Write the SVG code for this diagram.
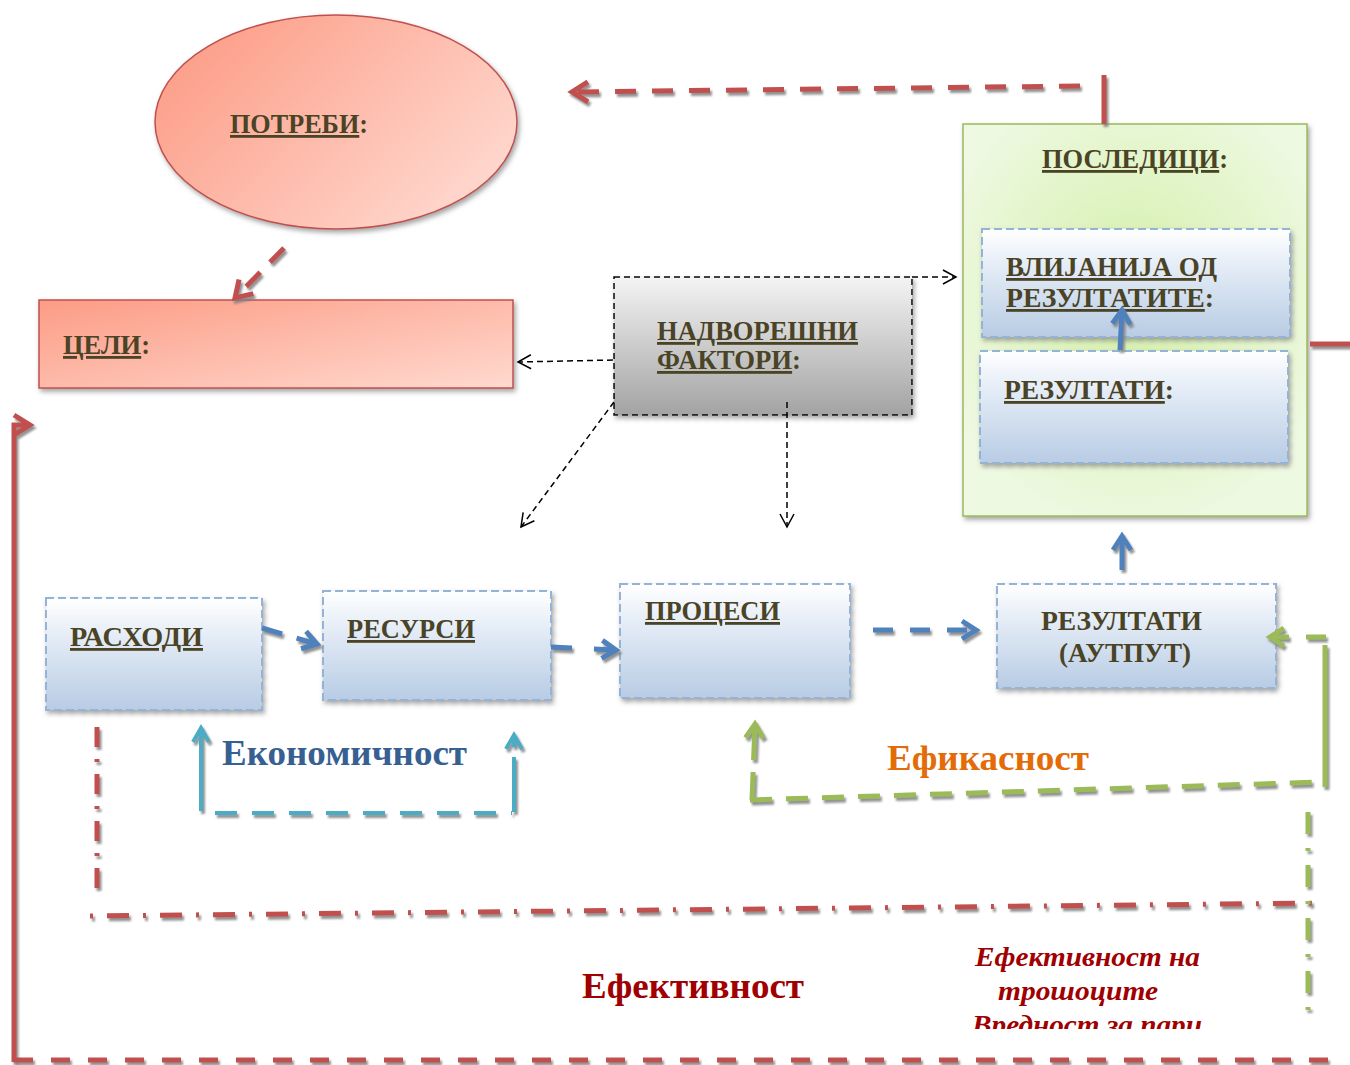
<svg xmlns="http://www.w3.org/2000/svg" width="1350" height="1065" viewBox="0 0 1350 1065">
<style>
.lbl{font-family:"Liberation Serif","Times New Roman",serif;font-weight:bold;font-size:28px;fill:#4a4326}
.u{text-decoration:underline;text-decoration-thickness:2.5px}
.big{font-family:"Liberation Serif","Times New Roman",serif;font-weight:bold;font-size:35px}
.it{font-family:"Liberation Serif","Times New Roman",serif;font-weight:bold;font-style:italic;font-size:27px;fill:#a00000}
.blueBox{fill:url(#gBlue);stroke:#95b3d7;stroke-width:2;stroke-dasharray:8 4}
.red{fill:none;stroke:#c0504d;stroke-width:5}
.blue{fill:none;stroke:#4f81bd;stroke-width:5}
.cyan{fill:none;stroke:#4bacc6;stroke-width:4}
.green{fill:none;stroke:#9bbb59;stroke-width:5}
.blk{fill:none;stroke:#000;stroke-width:1.5;stroke-dasharray:6 4}
</style>
<defs>
<filter id="sh" filterUnits="userSpaceOnUse" x="0" y="0" width="1350" height="1065">
<feDropShadow dx="2" dy="3" stdDeviation="1" flood-color="#7f7f7f" flood-opacity="0.85"/>
</filter>
<filter id="shs" filterUnits="userSpaceOnUse" x="0" y="0" width="1350" height="1065">
<feDropShadow dx="2" dy="3" stdDeviation="2.5" flood-color="#7f7f7f" flood-opacity="0.7"/>
</filter>
<linearGradient id="gBlue" x1="0" y1="0" x2="0" y2="1">
<stop offset="0" stop-color="#ffffff"/><stop offset="0.35" stop-color="#e4ecf6"/><stop offset="1" stop-color="#b8cce4"/>
</linearGradient>
<linearGradient id="gRed" x1="0" y1="0" x2="1" y2="1">
<stop offset="0" stop-color="#fc9c85"/><stop offset="1" stop-color="#ffd9cf"/>
</linearGradient>
<linearGradient id="gEll" x1="0" y1="0.2" x2="1" y2="0.8">
<stop offset="0" stop-color="#fc9c86"/><stop offset="1" stop-color="#ffdbd2"/>
</linearGradient>
<linearGradient id="gGray" x1="0" y1="0" x2="0" y2="1">
<stop offset="0" stop-color="#f4f4f4"/><stop offset="1" stop-color="#a3a3a3"/>
</linearGradient>
<radialGradient id="gGreen" cx="0.5" cy="0.45" r="0.6">
<stop offset="0" stop-color="#d3efa8"/><stop offset="1" stop-color="#eef9e2"/>
</radialGradient>
<marker id="aRed" markerUnits="userSpaceOnUse" markerWidth="30" markerHeight="30" refX="2" refY="12" orient="auto" overflow="visible">
<path d="M-14,2 L2,12 L-14,22" fill="none" stroke="#c0504d" stroke-width="5" stroke-linejoin="miter"/>
</marker>
<marker id="aBlue" markerUnits="userSpaceOnUse" markerWidth="30" markerHeight="30" refX="2" refY="12" orient="auto" overflow="visible">
<path d="M-12,3 L2,12 L-12,21" fill="none" stroke="#4f81bd" stroke-width="5"/>
</marker>
<marker id="aCyan" markerUnits="userSpaceOnUse" markerWidth="30" markerHeight="30" refX="2" refY="12" orient="auto" overflow="visible">
<path d="M-12,4 L2,12 L-12,20" fill="none" stroke="#4bacc6" stroke-width="4"/>
</marker>
<marker id="aGreen" markerUnits="userSpaceOnUse" markerWidth="30" markerHeight="30" refX="2" refY="12" orient="auto" overflow="visible">
<path d="M-12,3 L2,12 L-12,21" fill="none" stroke="#9bbb59" stroke-width="5"/>
</marker>
<marker id="aBlk" markerUnits="userSpaceOnUse" markerWidth="20" markerHeight="20" refX="1" refY="8" orient="auto" overflow="visible">
<path d="M-12,1 L1,8 L-12,15" fill="none" stroke="#000" stroke-width="1.5"/>
</marker>
<clipPath id="clipTxt"><rect x="0" y="0" width="1350" height="1029"/></clipPath>
</defs>
<rect width="1350" height="1065" fill="#ffffff"/>

<g id="node-potrebi">
<ellipse cx="336" cy="122" rx="181" ry="107" fill="url(#gEll)" stroke="#c0504d" stroke-width="1.5" filter="url(#shs)"/>
<text class="lbl" x="230" y="133" textLength="138" lengthAdjust="spacingAndGlyphs"><tspan class="u">ПОТРЕБИ</tspan>:</text>
</g>

<g id="node-celi">
<rect x="39" y="300" width="474" height="88" fill="url(#gRed)" stroke="#c0504d" stroke-width="1.5" filter="url(#shs)"/>
<text class="lbl" x="63" y="354" textLength="87" lengthAdjust="spacingAndGlyphs"><tspan class="u">ЦЕЛИ</tspan>:</text>
</g>

<g id="node-nadvoreshni">
<rect x="614" y="277" width="298" height="138" fill="url(#gGray)" stroke="#000" stroke-width="1.5" stroke-dasharray="6 4" filter="url(#shs)"/>
<text class="lbl" x="657" y="340" textLength="201" lengthAdjust="spacingAndGlyphs"><tspan class="u">НАДВОРЕШНИ</tspan></text>
<text class="lbl" x="657" y="369" textLength="144" lengthAdjust="spacingAndGlyphs"><tspan class="u">ФАКТОРИ</tspan>:</text>
</g>

<g id="node-posledici">
<rect x="963" y="124" width="344" height="392" fill="url(#gGreen)" stroke="#9bbb59" stroke-width="1.5" filter="url(#shs)"/>
<text class="lbl" x="1042" y="168" textLength="186" lengthAdjust="spacingAndGlyphs"><tspan class="u">ПОСЛЕДИЦИ</tspan>:</text>
</g>

<g id="node-vlijanija">
<rect class="blueBox" x="982" y="229" width="308" height="108" filter="url(#shs)"/>
<text class="lbl" x="1006" y="276" textLength="211" lengthAdjust="spacingAndGlyphs"><tspan class="u">ВЛИЈАНИЈА ОД</tspan></text>
<text class="lbl" x="1006" y="307" textLength="208" lengthAdjust="spacingAndGlyphs"><tspan class="u">РЕЗУЛТАТИТЕ</tspan>:</text>
</g>

<g id="node-rezultati-inner">
<rect class="blueBox" x="980" y="351" width="308" height="112" filter="url(#shs)"/>
<text class="lbl" x="1004" y="399" textLength="170" lengthAdjust="spacingAndGlyphs"><tspan class="u">РЕЗУЛТАТИ</tspan>:</text>
</g>

<g id="node-rashodi">
<rect class="blueBox" x="46" y="598" width="216" height="112" filter="url(#shs)"/>
<text class="lbl" x="70" y="646" textLength="133" lengthAdjust="spacingAndGlyphs"><tspan class="u">РАСХОДИ</tspan></text>
</g>

<g id="node-resursi">
<rect class="blueBox" x="323" y="591" width="228" height="109" filter="url(#shs)"/>
<text class="lbl" x="347" y="638" textLength="128" lengthAdjust="spacingAndGlyphs"><tspan class="u">РЕСУРСИ</tspan></text>
</g>

<g id="node-procesi">
<rect class="blueBox" x="620" y="584" width="230" height="114" filter="url(#shs)"/>
<text class="lbl" x="645" y="620" textLength="135" lengthAdjust="spacingAndGlyphs"><tspan class="u">ПРОЦЕСИ</tspan></text>
</g>

<g id="node-autput">
<rect class="blueBox" x="997" y="584" width="279" height="104" filter="url(#shs)"/>
<text class="lbl" x="1041" y="630" textLength="161" lengthAdjust="spacingAndGlyphs">РЕЗУЛТАТИ</text>
<text class="lbl" x="1059" y="662" textLength="132" lengthAdjust="spacingAndGlyphs">(АУТПУТ)</text>
</g>

<g id="connectors">
<path class="red" d="M1080,86 L572,92" stroke-dasharray="21 16" marker-end="url(#aRed)" filter="url(#sh)"/>
<path class="red" d="M1104,75 L1104,124" filter="url(#sh)"/>
<path class="red" d="M1310,344 L1350,344" filter="url(#sh)"/>
<path class="red" d="M284,248 L235,298" stroke-dasharray="20 14" marker-end="url(#aRed)" filter="url(#sh)"/>
<path class="red" d="M14,1062 L14,425 L30,425" stroke-width="4" marker-end="url(#aRed)" filter="url(#sh)"/>
<path class="red" d="M14,1060 L1342,1060" stroke-dasharray="19 18" filter="url(#sh)"/>
<path class="red" d="M97,727 L97,892" stroke-width="4" stroke-dasharray="20 12 3 12" filter="url(#sh)"/>
<path class="red" d="M90,916 L1325,903" stroke-width="6" stroke-dasharray="3 14 22 14" filter="url(#sh)"/>
<path class="blk" d="M912,277 L956,277" marker-end="url(#aBlk)"/>
<path class="blk" d="M613,360 L518,362" marker-end="url(#aBlk)"/>
<path class="blk" d="M614,402 L521,527" marker-end="url(#aBlk)"/>
<path class="blk" d="M787,402 L787,527" marker-end="url(#aBlk)"/>
<path class="blue" d="M262,628 L317,644" stroke-dasharray="21 15" marker-end="url(#aBlue)" filter="url(#sh)"/>
<path class="blue" d="M551,647 L616,650" stroke-dasharray="21 22" marker-end="url(#aBlue)" filter="url(#sh)"/>
<path class="blue" d="M873,630 L976,630" stroke-dasharray="20 17" marker-end="url(#aBlue)" filter="url(#sh)"/>
<path class="blue" d="M1122,570 L1122,536" marker-end="url(#aBlue)" filter="url(#sh)"/>
<path class="blue" d="M1120,350 L1122,310" marker-end="url(#aBlue)" filter="url(#sh)"/>
<path class="cyan" d="M201,811 L201,728" marker-end="url(#aCyan)" filter="url(#sh)"/>
<path class="cyan" d="M215,813 L512,813" stroke-width="5" stroke-dasharray="22 15" filter="url(#sh)"/>
<path class="cyan" d="M514,812 L514,735" stroke-dasharray="55 10 40" marker-end="url(#aCyan)" filter="url(#sh)"/>
<path class="green" d="M752,800 L755,724" stroke-width="4" stroke-dasharray="28 12 40" marker-end="url(#aGreen)" filter="url(#sh)"/>
<path class="green" d="M750,800 L1322,782" stroke-dasharray="22 14" filter="url(#sh)"/>
<path class="green" d="M1325,645 L1325,787" stroke-width="4" filter="url(#sh)"/>
<path class="green" d="M1326,637 L1270,637" stroke-dasharray="20 17" marker-end="url(#aGreen)" filter="url(#sh)"/>
<path class="green" d="M1308,812 L1308,1012" stroke-width="4" stroke-dasharray="22 14 3 14" filter="url(#sh)"/>
</g>

<g id="labels">
<text class="big" x="222" y="765" fill="#376092" textLength="245" lengthAdjust="spacingAndGlyphs">Економичност</text>
<text class="big" x="887" y="770" fill="#e36c09" textLength="202" lengthAdjust="spacingAndGlyphs">Ефикасност</text>
<text class="big" x="582" y="998" fill="#a00000" textLength="222" lengthAdjust="spacingAndGlyphs">Ефективност</text>
<g clip-path="url(#clipTxt)">
<text class="it" x="975" y="966" textLength="225" lengthAdjust="spacingAndGlyphs">Ефективност на</text>
<text class="it" x="998" y="1000" textLength="160" lengthAdjust="spacingAndGlyphs">трошоците</text>
<text class="it" x="972" y="1034" textLength="230" lengthAdjust="spacingAndGlyphs">Вредност за пари</text>
</g>
</g>
</svg>
